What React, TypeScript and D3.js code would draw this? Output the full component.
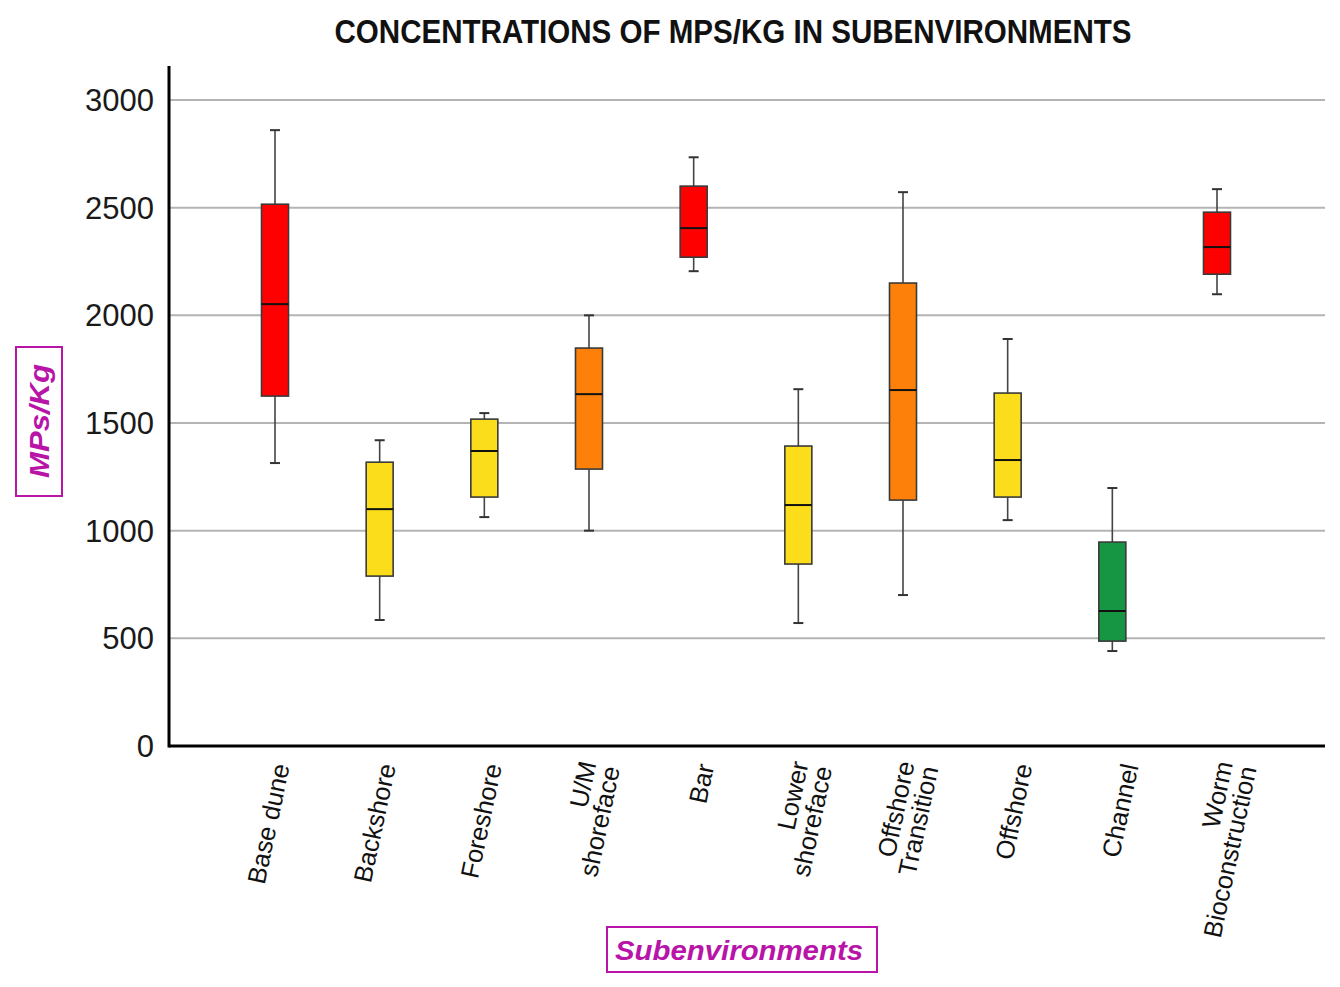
import * as d3 from 'd3';
import React from 'react';

// Subenvironment boxplot data (MPs/Kg)
const categories = [
    ['Base dune'],
    ['Backshore'],
    ['Foreshore'],
    ['U/M', 'shoreface'],
    ['Bar'],
    ['Lower', 'shoreface'],
    ['Offshore', 'Transition'],
    ['Offshore'],
    ['Channel'],
    ['Worm', 'Bioconstruction'],
];
const whiskerLow = [1314, 585, 1063, 1000, 2205, 571, 701, 1049, 441, 2098];
const q1 = [1625, 789, 1156, 1286, 2270, 845, 1142, 1156, 487, 2191];
const medians = [2052, 1100, 1370, 1634, 2405, 1119, 1653, 1328, 627, 2317];
const q3 = [2516, 1318, 1518, 1848, 2600, 1393, 2150, 1639, 947, 2479];
const whiskerHigh = [2860, 1420, 1546, 2000, 2734, 1657, 2572, 1890, 1198, 2586];
const levels = ['high', 'mid', 'mid', 'elevated', 'high', 'mid', 'elevated', 'mid', 'low', 'high'];
const yTicks = [0, 500, 1000, 1500, 2000, 2500, 3000];

const levelColours: Record<string, string> = {
    high: '#ff0000',
    elevated: '#fc800a',
    mid: '#fcdd1c',
    low: '#169642',
};

const width = 1340;
const height = 987;
const left = 169;
const right = 1325;
const top = 66;
const bottom = 746;

const App = () => {
    const y = d3.scaleLinear().domain([0, 3000]).range([bottom, 100]);
    const x = d3.scalePoint<number>()
        .domain(d3.range(categories.length))
        .range([275, 1217]);
    // the tick labels drift a little to the right of their boxes
    const xLabel = d3.scalePoint<number>()
        .domain(d3.range(categories.length))
        .range([281, 1236]);
    const boxW = 27;
    const capW = 10;
    const magenta = '#b814a8';

    return (
        <svg width={width} height={height} style={{ position: 'absolute', left: 0, top: 0 }}
            fontFamily="'Liberation Sans', Arial, sans-serif">
            <rect width={width} height={height} fill="#fff" />
            <text x={733} y={43} textAnchor="middle" fontSize={33} fontWeight="bold"
                fontFamily="'Liberation Sans Narrow', 'Liberation Sans', Arial, sans-serif"
                textLength={797} lengthAdjust="spacingAndGlyphs" fill="#111">
                CONCENTRATIONS OF MPS/KG IN SUBENVIRONMENTS
            </text>

            {/* grid and y ticks */}
            {yTicks.map(t => (
                <g key={t}>
                    {t > 0 && <line x1={left} x2={right} y1={y(t)} y2={y(t)} stroke="#b4b4b4" strokeWidth={2} />}
                    <text x={154} y={y(t)} dy="0.36em" textAnchor="end" fontSize={31} fill="#1a1a1a">{t}</text>
                </g>
            ))}

            {/* boxes */}
            {categories.map((_, i) => {
                const cx = x(i) as number;
                const c = levelColours[levels[i]];
                return (
                    <g key={i}>
                        <line x1={cx} x2={cx} y1={y(whiskerHigh[i])} y2={y(q3[i])} stroke="#444" strokeWidth={1.6} />
                        <line x1={cx} x2={cx} y1={y(q1[i])} y2={y(whiskerLow[i])} stroke="#444" strokeWidth={1.6} />
                        <line x1={cx - capW / 2} x2={cx + capW / 2} y1={y(whiskerHigh[i])} y2={y(whiskerHigh[i])} stroke="#333" strokeWidth={2} />
                        <line x1={cx - capW / 2} x2={cx + capW / 2} y1={y(whiskerLow[i])} y2={y(whiskerLow[i])} stroke="#333" strokeWidth={2} />
                        <rect x={cx - boxW / 2} width={boxW} y={y(q3[i])} height={y(q1[i]) - y(q3[i])}
                            fill={c} stroke="#3a3a3a" strokeWidth={1.6} />
                        <line x1={cx - boxW / 2} x2={cx + boxW / 2} y1={y(medians[i])} y2={y(medians[i])} stroke="#111" strokeWidth={2} />
                    </g>
                );
            })}

            {/* axes */}
            <line x1={left} x2={left} y1={top} y2={bottom + 1.5} stroke="#000" strokeWidth={3} />
            <line x1={left} x2={right} y1={bottom} y2={bottom} stroke="#000" strokeWidth={3} />

            {/* category labels */}
            {categories.map((lines, i) => {
                const lx = xLabel(i) as number;
                const first = lines.length === 1 ? 0.35 : -0.12;
                return (
                    <text key={i} transform={`translate(${lx},764) rotate(-78)`} textAnchor="end"
                        fontSize={25.5} fill="#111">
                        {lines.map((l, j) => (
                            <tspan key={j} x={0} dy={j === 0 ? `${first}em` : '0.95em'}>{l}</tspan>
                        ))}
                    </text>
                );
            })}

            {/* axis titles */}
            <rect x={16} y={347} width={46} height={149} fill="none" stroke={magenta} strokeWidth={2} />
            <text transform="translate(39,421) rotate(-90)" textAnchor="middle" dy="0.35em" fontSize={28}
                fontStyle="italic" fontWeight="bold" fill={magenta} textLength={114} lengthAdjust="spacingAndGlyphs">
                MPs/Kg
            </text>
            <rect x={607} y={927} width={270} height={45} fill="none" stroke={magenta} strokeWidth={2} />
            <text x={739} y={950} dy="0.36em" textAnchor="middle" fontSize={28} fontStyle="italic" fontWeight="bold"
                fill={magenta} textLength={248} lengthAdjust="spacingAndGlyphs">
                Subenvironments
            </text>
        </svg>
    );
};

export default App;
